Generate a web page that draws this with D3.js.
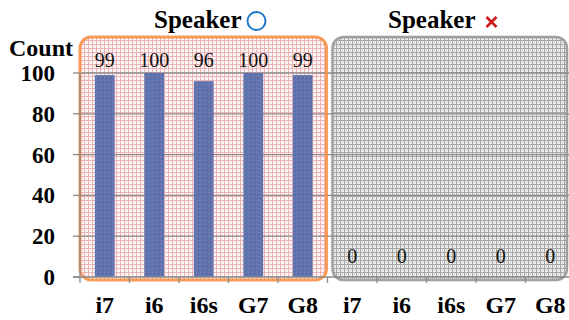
<!DOCTYPE html>
<html>
<head>
<meta charset="utf-8">
<script src="https://cdn.jsdelivr.net/npm/d3@7/dist/d3.min.js"></script>
<style>
  html, body { margin: 0; padding: 0; background: #fff; }
  svg { display: block; }
  svg text { font-family: "Liberation Serif", "DejaVu Serif", serif; }
</style>
</head>
<body>
<svg id="chart" width="569" height="320"></svg>
<script>
// Phone models tested under each speaker condition
const models = ["i7", "i6", "i6s", "G7", "G8"];
// Detection counts per model
const speakerOnCounts = [99, 100, 96, 100, 99];
const speakerOffCounts = [0, 0, 0, 0, 0];
const yTicks = [0, 20, 40, 60, 80, 100];

const groups = [
  { key: "on", title: "Speaker", counts: speakerOnCounts },
  { key: "off", title: "Speaker", counts: speakerOffCounts }
];

const rows = [];
groups.forEach(g => models.forEach((m, i) => rows.push({ id: g.key + "-" + m, group: g.key, model: m, value: g.counts[i] })));

const svg = d3.select("#chart");

const x = d3.scaleBand().domain(rows.map(d => d.id)).range([80, 575]).paddingInner(0.6).paddingOuter(0.3);
const y = d3.scaleLinear().domain([0, 100]).range([277, 73]);
const step = x.step();

// Hatched textures for the two panels
const defs = svg.append("defs");
const pinkPat = defs.append("pattern").attr("id", "pinkGrid").attr("patternUnits", "userSpaceOnUse")
  .attr("width", 4).attr("height", 4);
pinkPat.append("rect").attr("width", 4).attr("height", 4).attr("fill", "#fdf5f5");
pinkPat.append("rect").attr("x", 0).attr("y", 0).attr("width", 4).attr("height", 1).attr("fill", "#efbcbc");
pinkPat.append("rect").attr("x", 0).attr("y", 0).attr("width", 1).attr("height", 4).attr("fill", "#efbcbc");

const pinkLines = defs.append("pattern").attr("id", "pinkLines").attr("patternUnits", "userSpaceOnUse")
  .attr("width", 4).attr("height", 4);
pinkLines.append("rect").attr("x", 0).attr("y", 0).attr("width", 4).attr("height", 1).attr("fill", "#d88a8a").attr("opacity", 0.12);
pinkLines.append("rect").attr("x", 0).attr("y", 0).attr("width", 1).attr("height", 4).attr("fill", "#d88a8a").attr("opacity", 0.12);

const grayPat = defs.append("pattern").attr("id", "grayGrid").attr("patternUnits", "userSpaceOnUse")
  .attr("width", 4).attr("height", 4);
grayPat.append("rect").attr("width", 4).attr("height", 4).attr("fill", "#eeeeee");
grayPat.append("rect").attr("x", 0).attr("y", 0).attr("width", 4).attr("height", 1).attr("fill", "#a6a6a6");
grayPat.append("rect").attr("x", 0).attr("y", 0).attr("width", 1).attr("height", 4).attr("fill", "#a6a6a6");
grayPat.append("rect").attr("x", 2).attr("y", 2).attr("width", 1).attr("height", 1).attr("fill", "#c4c4c4");

// Panel geometry derived from the band scale
const panelTop = 37, panelBottom = 280;
const onLeft = 80, onRight = x.range()[0] + step * 5 - 1;
const offLeft = onRight + 6, offRight = 567;

// Background panels
svg.append("rect").attr("x", onLeft).attr("y", panelTop).attr("width", onRight - onLeft).attr("height", panelBottom - panelTop)
  .attr("rx", 11).attr("fill", "url(#pinkGrid)");
svg.append("rect").attr("x", offLeft).attr("y", panelTop).attr("width", offRight - offLeft).attr("height", panelBottom - panelTop)
  .attr("rx", 11).attr("fill", "url(#grayGrid)").attr("stroke", "#a0a0a0").attr("stroke-width", 2.5);

// Horizontal gridlines
svg.append("g").selectAll("line").data(yTicks.filter(t => t > 0)).join("line")
  .attr("x1", 80).attr("x2", 569).attr("y1", d => y(d)).attr("y2", d => y(d))
  .attr("stroke", "#8a8a8a").attr("stroke-width", 1.3);

// Bars
svg.append("g").selectAll("rect").data(rows).join("rect")
  .attr("x", d => x(d.id)).attr("width", x.bandwidth())
  .attr("y", d => y(d.value)).attr("height", d => y(0) - y(d.value))
  .attr("fill", "#5b72b1");

// Faint texture over the bars in the first panel
svg.append("rect").attr("x", onLeft).attr("y", panelTop).attr("width", onRight - onLeft).attr("height", panelBottom - panelTop)
  .attr("rx", 11).attr("fill", "url(#pinkLines)");

// Orange outline of first panel
svg.append("rect").attr("x", onLeft).attr("y", panelTop).attr("width", onRight - onLeft).attr("height", panelBottom - panelTop)
  .attr("rx", 11).attr("fill", "none").attr("stroke", "#f68c3e").attr("stroke-width", 3).attr("stroke-opacity", 0.85);

// Axis lines
svg.append("line").attr("x1", 80).attr("x2", 80).attr("y1", y(100)).attr("y2", y(0)).attr("stroke", "#8a8a8a").attr("stroke-width", 1.3);
svg.append("line").attr("x1", 73).attr("x2", 569).attr("y1", y(0)).attr("y2", y(0)).attr("stroke", "#8a8a8a").attr("stroke-width", 1.3);

// Y ticks and labels
const yAxis = svg.append("g");
yAxis.selectAll("line").data(yTicks).join("line")
  .attr("x1", 73).attr("x2", 80).attr("y1", d => y(d)).attr("y2", d => y(d))
  .attr("stroke", "#8a8a8a").attr("stroke-width", 1.3);
yAxis.selectAll("text").data(yTicks).join("text")
  .attr("x", 55).attr("y", d => y(d)).attr("dy", "0.35em").attr("text-anchor", "end")
  .attr("font-weight", "bold").attr("font-size", 23).attr("fill", "#000")
  .text(d => d);

// X ticks at category boundaries
const boundaries = d3.range(0, rows.length + 1).map(i => x.range()[0] + i * step);
svg.append("g").selectAll("line").data(boundaries.slice(0, rows.length)).join("line")
  .attr("x1", d => d).attr("x2", d => d).attr("y1", y(0)).attr("y2", y(0) + 6)
  .attr("stroke", "#8a8a8a").attr("stroke-width", 1.3);

// X labels
svg.append("g").selectAll("text").data(rows).join("text")
  .attr("x", d => x(d.id) + x.bandwidth() / 2).attr("y", 313).attr("text-anchor", "middle")
  .attr("font-weight", "bold").attr("font-size", 24).attr("fill", "#000")
  .text(d => d.model);

// Value labels
svg.append("g").selectAll("text").data(rows).join("text")
  .attr("x", d => x(d.id) + x.bandwidth() / 2)
  .attr("y", d => Math.max(y(d.value) - 14, y(100) - 6))
  .attr("text-anchor", "middle")
  .attr("font-size", 20).attr("fill", "#111")
  .text(d => d.value);

// Y axis title
svg.append("text").attr("x", 9).attr("y", 56)
  .attr("font-weight", "bold").attr("font-size", 24).attr("fill", "#000")
  .text("Count");

// Group titles with markers
const t1 = svg.append("text").attr("x", 154).attr("y", 28)
  .attr("font-weight", "bold").attr("font-size", 25).attr("fill", "#000")
  .text(groups[0].title);
const t2 = svg.append("text").attr("x", 388).attr("y", 28)
  .attr("font-weight", "bold").attr("font-size", 25).attr("fill", "#000")
  .text(groups[1].title);
const b1 = t1.node().getBBox(), b2 = t2.node().getBBox();
svg.append("circle").attr("cx", b1.x + b1.width + 15).attr("cy", 21).attr("r", 9)
  .attr("fill", "none").attr("stroke", "#1f78c8").attr("stroke-width", 2);
const cx2 = b2.x + b2.width + 16, cy2 = 22;
svg.append("path").attr("d", `M${cx2 - 5},${cy2 - 5}L${cx2 + 5},${cy2 + 5}M${cx2 + 5},${cy2 - 5}L${cx2 - 5},${cy2 + 5}`)
  .attr("stroke", "#d11a1a").attr("stroke-width", 2.6);
</script>
</body>
</html>
